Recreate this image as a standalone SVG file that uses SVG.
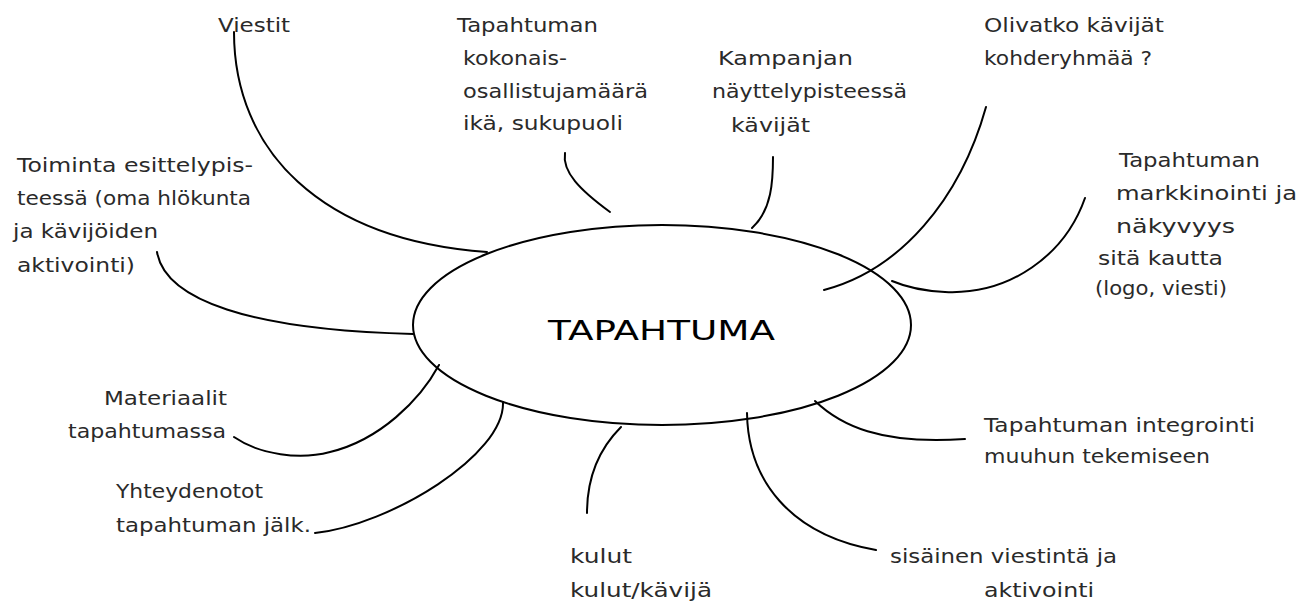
<svg xmlns="http://www.w3.org/2000/svg" width="1299" height="606" viewBox="0 0 1299 606">
<style>
.bg{fill:#ffffff}
.lbl{font-family:"DejaVu Sans","Liberation Sans",sans-serif;font-size:20px;fill:#2a2a2a}
.ttl{font-family:"DejaVu Sans","Liberation Sans",sans-serif;font-size:27px;fill:#000}
.ell{fill:none;stroke:#000;stroke-width:2}
.con{fill:none;stroke:#000;stroke-width:2;stroke-linecap:round}
</style>
<rect class="bg" x="0" y="0" width="1299" height="606"/>
<g id="center">
<ellipse class="ell" cx="662" cy="325" rx="249" ry="100"/>
<text class="ttl" x="548" y="340" textLength="227" lengthAdjust="spacingAndGlyphs">TAPAHTUMA</text>
</g>
<g id="connectors">
<path class="con" d="M234,32 C234,150 320,240 487,252"/>
<path class="con" d="M565,153 C562,172 580,190 610,212"/>
<path class="con" d="M773,157 C773,180 772,210 752,228"/>
<path class="con" d="M986,107 C960,200 900,270 824,290"/>
<path class="con" d="M1085,198 C1065,255 1010,295 945,292 C925,291 906,287 892,281"/>
<path class="con" d="M157,252 C165,300 250,330 413,334"/>
<path class="con" d="M234,437 C260,455 300,460 330,452 C380,440 420,400 439,365"/>
<path class="con" d="M315,533 C390,525 505,455 503,402"/>
<path class="con" d="M621,427 C598,450 587,480 587,513"/>
<path class="con" d="M747,413 C748,480 790,535 876,550"/>
<path class="con" d="M815,401 C840,425 880,445 965,439"/>
</g>
<g id="n-viestit">
<text class="lbl" x="218" y="32" textLength="72" lengthAdjust="spacingAndGlyphs">Viestit</text>
</g>
<g id="n-kokonais">
<text class="lbl" x="457" y="32" textLength="141" lengthAdjust="spacingAndGlyphs">Tapahtuman</text>
<text class="lbl" x="463" y="65" textLength="104" lengthAdjust="spacingAndGlyphs">kokonais-</text>
<text class="lbl" x="463" y="98" textLength="185" lengthAdjust="spacingAndGlyphs">osallistujamäärä</text>
<text class="lbl" x="463" y="130" textLength="160" lengthAdjust="spacingAndGlyphs">ikä, sukupuoli</text>
</g>
<g id="n-kampanjan">
<text class="lbl" x="718" y="65" textLength="135" lengthAdjust="spacingAndGlyphs">Kampanjan</text>
<text class="lbl" x="712" y="98" textLength="195" lengthAdjust="spacingAndGlyphs">näyttelypisteessä</text>
<text class="lbl" x="731" y="132" textLength="79" lengthAdjust="spacingAndGlyphs">kävijät</text>
</g>
<g id="n-olivatko">
<text class="lbl" x="984" y="32" textLength="180" lengthAdjust="spacingAndGlyphs">Olivatko kävijät</text>
<text class="lbl" x="984" y="65" textLength="168" lengthAdjust="spacingAndGlyphs">kohderyhmää ?</text>
</g>
<g id="n-markkinointi">
<text class="lbl" x="1119" y="167" textLength="141" lengthAdjust="spacingAndGlyphs">Tapahtuman</text>
<text class="lbl" x="1116" y="200" textLength="181" lengthAdjust="spacingAndGlyphs">markkinointi ja</text>
<text class="lbl" x="1116" y="233" textLength="119" lengthAdjust="spacingAndGlyphs">näkyvyys</text>
<text class="lbl" x="1098" y="265" textLength="125" lengthAdjust="spacingAndGlyphs">sitä kautta</text>
<text class="lbl" x="1095" y="295" textLength="132" lengthAdjust="spacingAndGlyphs">(logo, viesti)</text>
</g>
<g id="n-toiminta">
<text class="lbl" x="17" y="172" textLength="236" lengthAdjust="spacingAndGlyphs">Toiminta esittelypis-</text>
<text class="lbl" x="17" y="205" textLength="234" lengthAdjust="spacingAndGlyphs">teessä (oma hlökunta</text>
<text class="lbl" x="13" y="238" textLength="145" lengthAdjust="spacingAndGlyphs">ja kävijöiden</text>
<text class="lbl" x="17" y="272" textLength="118" lengthAdjust="spacingAndGlyphs">aktivointi)</text>
</g>
<g id="n-materiaalit">
<text class="lbl" x="104" y="405" textLength="123" lengthAdjust="spacingAndGlyphs">Materiaalit</text>
<text class="lbl" x="68" y="438" textLength="158" lengthAdjust="spacingAndGlyphs">tapahtumassa</text>
</g>
<g id="n-yhteydenotot">
<text class="lbl" x="116" y="498" textLength="147" lengthAdjust="spacingAndGlyphs">Yhteydenotot</text>
<text class="lbl" x="116" y="532" textLength="195" lengthAdjust="spacingAndGlyphs">tapahtuman jälk.</text>
</g>
<g id="n-kulut">
<text class="lbl" x="570" y="563" textLength="62" lengthAdjust="spacingAndGlyphs">kulut</text>
<text class="lbl" x="570" y="597" textLength="142" lengthAdjust="spacingAndGlyphs">kulut/kävijä</text>
</g>
<g id="n-sisainen">
<text class="lbl" x="890" y="563" textLength="227" lengthAdjust="spacingAndGlyphs">sisäinen viestintä ja</text>
<text class="lbl" x="984" y="597" textLength="110" lengthAdjust="spacingAndGlyphs">aktivointi</text>
</g>
<g id="n-integrointi">
<text class="lbl" x="984" y="432" textLength="271" lengthAdjust="spacingAndGlyphs">Tapahtuman integrointi</text>
<text class="lbl" x="984" y="463" textLength="226" lengthAdjust="spacingAndGlyphs">muuhun tekemiseen</text>
</g>
</svg>
